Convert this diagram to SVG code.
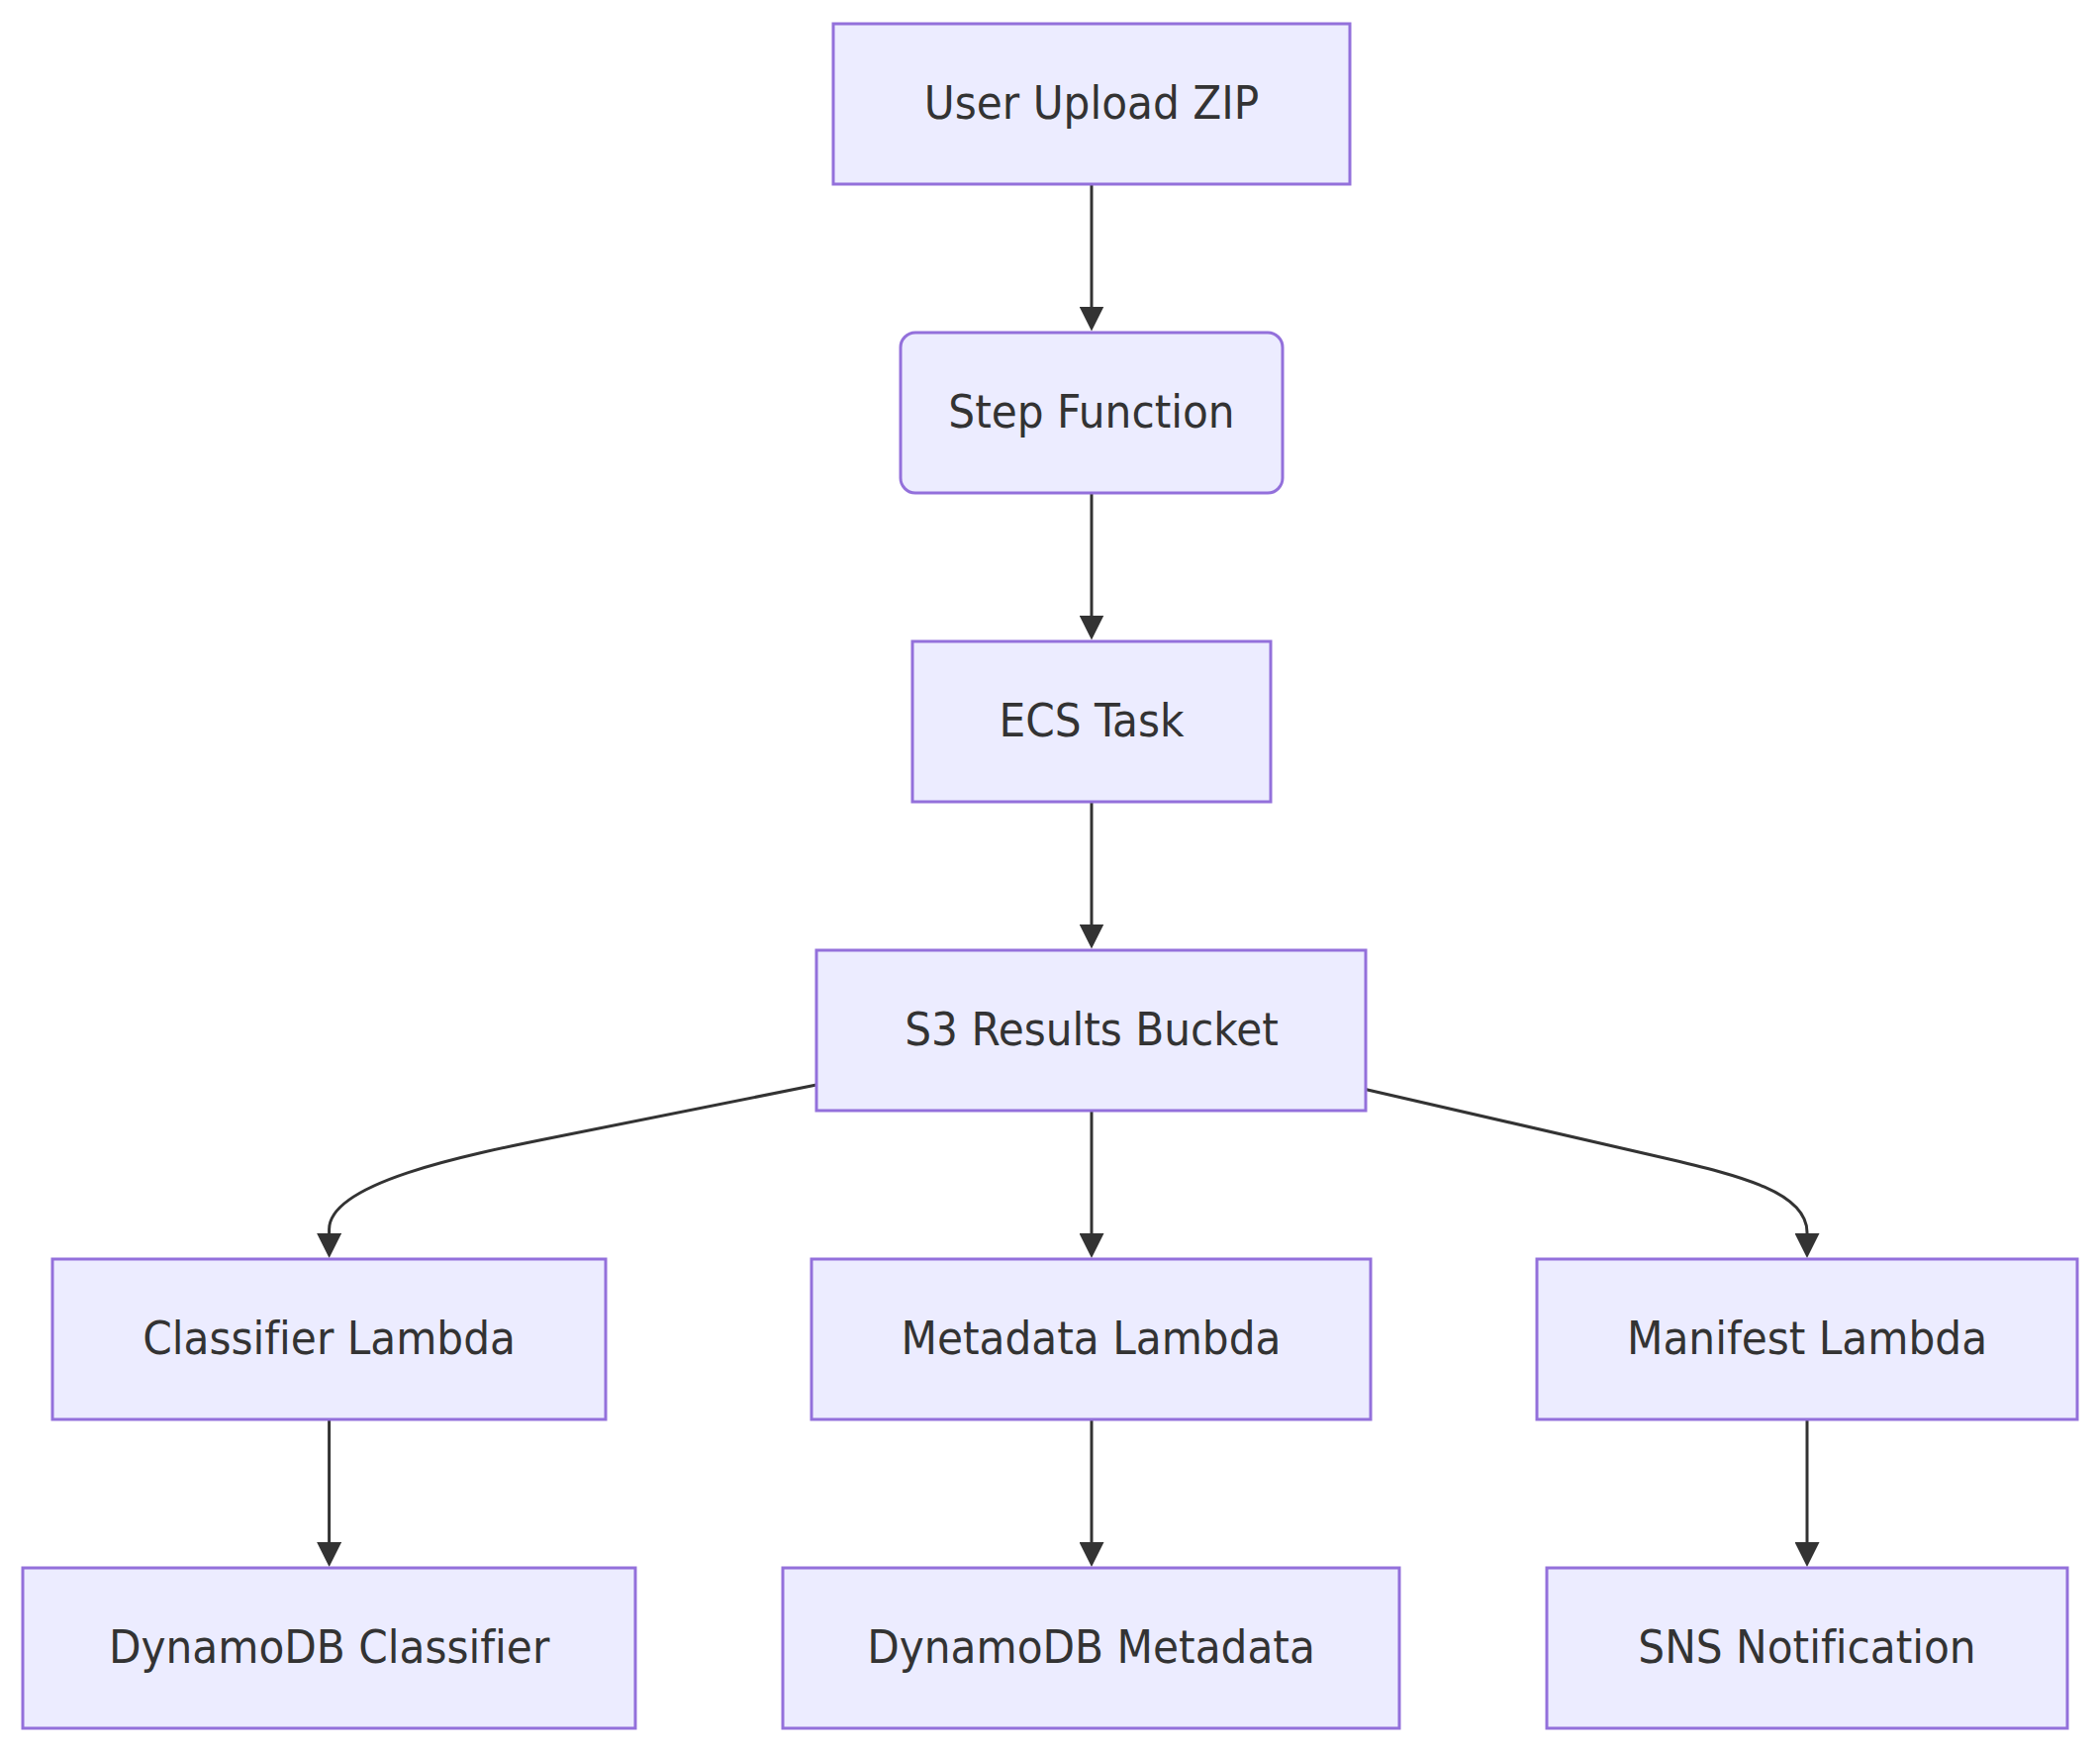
<svg xmlns="http://www.w3.org/2000/svg" width="2122" height="1770" viewBox="0 0 2122 1770">
<defs>
<style>
.node rect{fill:#ECECFF;stroke:#9370DB;stroke-width:3}
.node text{font-family:"DejaVu Sans Condensed","DejaVu Sans",sans-serif;font-stretch:condensed;font-size:47px;fill:#333333;text-anchor:middle;font-variant-ligatures:none}
.edge{fill:none;stroke:#333333;stroke-width:3}
</style>
<marker id="arrow" viewBox="0 0 10 10" refX="5" refY="5" markerUnits="userSpaceOnUse" markerWidth="25" markerHeight="25" orient="auto">
<path d="M0,0 L10,5 L0,10 z" fill="#333333"/>
</marker>
</defs>
<rect width="2122" height="1770" fill="#ffffff"/>
<g id="connectors">
<path class="edge" d="M1103,186 L1103,322" marker-end="url(#arrow)"/>
<path class="edge" d="M1103,498 L1103,634" marker-end="url(#arrow)"/>
<path class="edge" d="M1103,810 L1103,946" marker-end="url(#arrow)"/>
<path class="edge" d="M1103,1122 L1103,1258.5" marker-end="url(#arrow)"/>
<path class="edge" d="M825,1096 L560,1149 C470,1167 332.6,1195 332.6,1242 L332.6,1258.5" marker-end="url(#arrow)"/>
<path class="edge" d="M1380.7,1100.7 L1680,1169.5 C1760,1188 1826,1205 1826,1245 L1826,1258.5" marker-end="url(#arrow)"/>
<path class="edge" d="M332.6,1434 L332.6,1570.5" marker-end="url(#arrow)"/>
<path class="edge" d="M1103,1434 L1103,1570.5" marker-end="url(#arrow)"/>
<path class="edge" d="M1826,1434 L1826,1570.5" marker-end="url(#arrow)"/>
</g>
<g id="node-upload" class="node"><rect x="842" y="24" width="522" height="162"/><text x="1103" y="120">User Upload ZIP</text></g>
<g id="node-step" class="node"><rect x="910" y="336" width="386" height="162" rx="15" ry="15"/><text x="1103" y="432">Step Function</text></g>
<g id="node-ecs" class="node"><rect x="922" y="648" width="362" height="162"/><text x="1103" y="744">ECS Task</text></g>
<g id="node-s3" class="node"><rect x="825" y="960" width="555" height="162"/><text x="1103" y="1056">S3 Results Bucket</text></g>
<g id="node-classifier" class="node"><rect x="53" y="1272" width="559" height="162"/><text x="332.6" y="1368">Classifier Lambda</text></g>
<g id="node-metadata" class="node"><rect x="820" y="1272" width="565" height="162"/><text x="1102.5" y="1368">Metadata Lambda</text></g>
<g id="node-manifest" class="node"><rect x="1553" y="1272" width="546" height="162"/><text x="1826" y="1368">Manifest Lambda</text></g>
<g id="node-ddb-classifier" class="node"><rect x="23" y="1584" width="619" height="162"/><text x="332.6" y="1680">DynamoDB Classifier</text></g>
<g id="node-ddb-metadata" class="node"><rect x="791" y="1584" width="623" height="162"/><text x="1102.5" y="1680">DynamoDB Metadata</text></g>
<g id="node-sns" class="node"><rect x="1563" y="1584" width="526" height="162"/><text x="1826" y="1680">SNS Notification</text></g>
</svg>
